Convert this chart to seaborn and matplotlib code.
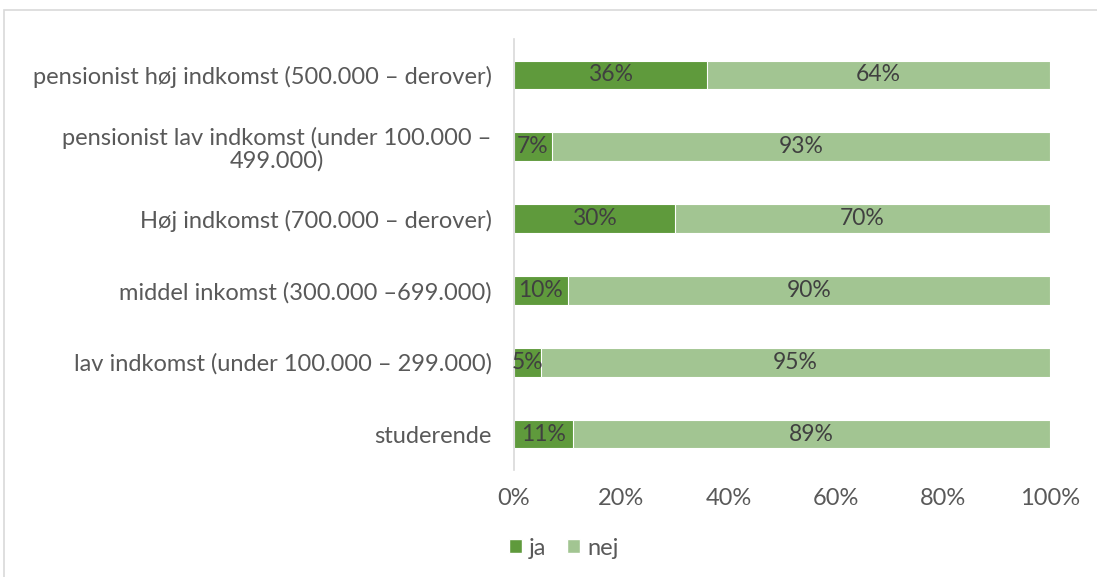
import matplotlib
matplotlib.use("Agg")
import matplotlib.pyplot as plt
import seaborn as sns
import pandas as pd
from matplotlib.patches import Rectangle, Patch

categories = [
    "pensionist høj indkomst (500.000 – derover)",
    "pensionist lav indkomst (under 100.000 –\n499.000)",
    "Høj indkomst (700.000 – derover)",
    "middel inkomst (300.000 –699.000)",
    "lav indkomst (under 100.000 – 299.000)",
    "studerende",
]
ja = [36, 7, 30, 10, 5, 11]
nej = [64, 93, 70, 90, 95, 89]
series_names = ["ja", "nej"]
x_ticks = [0, 20, 40, 60, 80, 100]

COL_JA = "#5f9a3c"
COL_NEJ = "#a2c592"
TXT = "#595959"
FS = 17

sns.set_theme(style="white")
plt.rcParams["font.family"] = ["Lato", "DejaVu Sans"]

df = pd.DataFrame({"kategori": categories, "ja": ja, "nej": nej})
df["total"] = df["ja"] + df["nej"]

fig = plt.figure(figsize=(10.97, 5.77), dpi=100)
ax = fig.add_axes([0.4686, 0.1854, 0.4886, 0.7470])

sns.barplot(data=df, y="kategori", x="total", color=COL_NEJ, saturation=1,
            width=0.4, edgecolor="white", linewidth=0.8, ax=ax, orient="h")
sns.barplot(data=df, y="kategori", x="ja", color=COL_JA, saturation=1,
            width=0.4, edgecolor="white", linewidth=0.8, ax=ax, orient="h")

for i, (a, b) in enumerate(zip(ja, nej)):
    ax.text(a / 2, i, f"{a}%", ha="center", va="center", fontsize=FS - 0.5,
            color="#404040")
    ax.text(a + b / 2, i, f"{b}%", ha="center", va="center", fontsize=FS - 0.5,
            color="#404040")

ax.set_xlim(0, 100)
ax.set_ylim(5.5, -0.5)
ax.set_xticks(x_ticks)
ax.set_xticklabels([f"{t}%" for t in x_ticks], fontsize=FS, color=TXT)
ax.set_yticklabels(categories, fontsize=FS, color=TXT, linespacing=1.05)
for lab in ax.get_yticklabels():
    lab.set_multialignment("center")
ax.tick_params(axis="x", length=0, pad=13)
ax.tick_params(axis="y", length=0, pad=16)
ax.set_xlabel("")
ax.set_ylabel("")
for s in ["top", "right", "bottom"]:
    ax.spines[s].set_visible(False)
ax.spines["left"].set_color("#d9d9d9")
ax.spines["left"].set_linewidth(1.2)

handles = [Patch(facecolor=COL_JA), Patch(facecolor=COL_NEJ)]
leg = fig.legend(handles, series_names, loc="center", bbox_to_anchor=(0.514, 0.05),
                 ncol=2, frameon=False, fontsize=FS, handlelength=0.55,
                 handleheight=0.55, handletextpad=0.3, columnspacing=0.9)
for t in leg.get_texts():
    t.set_color(TXT)

fig.patches.append(Rectangle((4 / 1097, -0.05), 1.2, 1 - 10 / 577 + 0.05,
                             transform=fig.transFigure, fill=False,
                             edgecolor="#d9d9d9", linewidth=1.2))

fig.savefig("out.png", dpi=100)
